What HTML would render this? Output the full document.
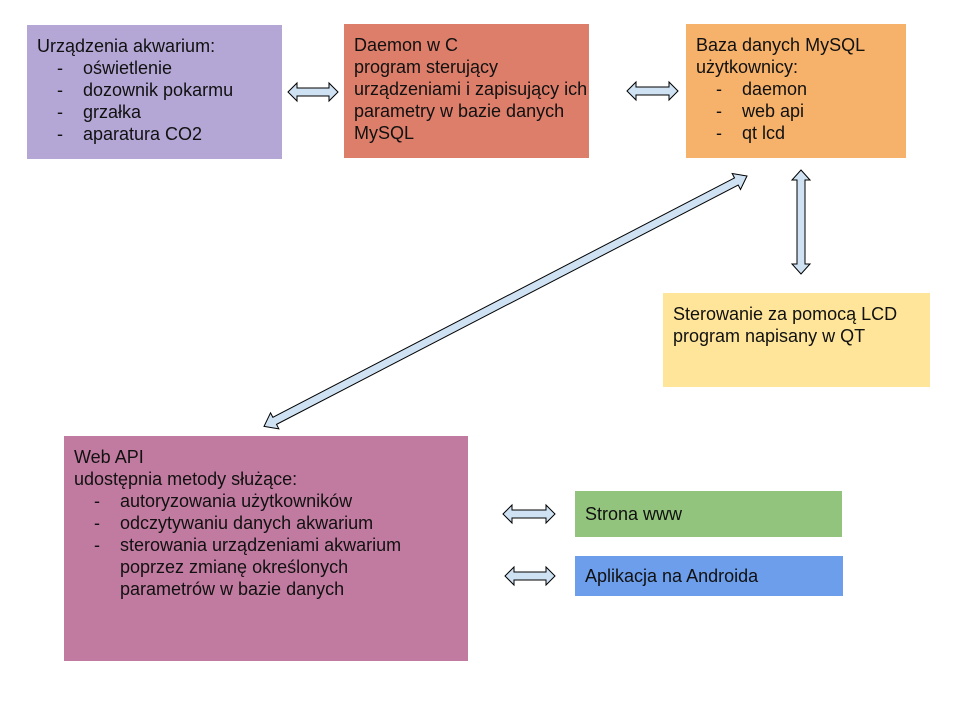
<!DOCTYPE html>
<html><head><meta charset="utf-8"><style>
body{margin:0;width:960px;height:720px;background:#fff;position:relative;overflow:hidden;font-family:"Liberation Sans",Arial,sans-serif;font-size:18px;line-height:22px;color:#111}
.b{position:absolute;box-sizing:border-box;padding:10px 10px}
.l{position:relative;padding-left:46px}
.l::before{content:"-";position:absolute;left:20px}
svg{position:absolute;left:0;top:0}
</style></head><body>
<div class="b" style="left:27px;top:25px;width:255px;height:134px;background:#b4a7d6">Urządzenia akwarium:
<div class="l">oświetlenie</div><div class="l">dozownik pokarmu</div><div class="l">grzałka</div><div class="l">aparatura CO2</div></div>
<div class="b" style="left:344px;top:24px;width:245px;height:134px;background:#dd7e6b;white-space:nowrap">Daemon w C<br>program sterujący<br>urządzeniami i zapisujący ich<br>parametry w bazie danych<br>MySQL</div>
<div class="b" style="left:686px;top:24px;width:220px;height:134px;background:#f6b26b">Baza danych MySQL użytkownicy:
<div class="l">daemon</div><div class="l">web api</div><div class="l">qt lcd</div></div>
<div class="b" style="left:663px;top:293px;width:267px;height:94px;background:#ffe599">Sterowanie za pomocą LCD program napisany w QT</div>
<div class="b" style="left:64px;top:436px;width:404px;height:225px;background:#c27ba0;white-space:nowrap">Web API<br>udostępnia metody służące:
<div class="l">autoryzowania użytkowników</div><div class="l">odczytywaniu danych akwarium</div><div class="l">sterowania urządzeniami akwarium<br>poprzez zmianę określonych<br>parametrów w bazie danych</div></div>
<div class="b" style="left:575px;top:491px;width:267px;height:46px;background:#93c47d;padding-top:12px">Strona www</div>
<div class="b" style="left:575px;top:556px;width:268px;height:40px;background:#6d9eeb;padding-top:9px">Aplikacja na Androida</div>
<svg width="960" height="720" fill="#cfe2f3" stroke="#000" stroke-width="1">
<g transform="translate(288,92)"><polygon points="0,0 9,-9 9,-4 41,-4 41,-9 50,0 41,9 41,4 9,4 9,9"/></g>
<g transform="translate(627,91)"><polygon points="0,0 9,-9 9,-4 42,-4 42,-9 51,0 42,9 42,4 9,4 9,9"/></g>
<g transform="translate(503,514)"><polygon points="0,0 9,-9 9,-4 43,-4 43,-9 52,0 43,9 43,4 9,4 9,9"/></g>
<g transform="translate(505,576)"><polygon points="0,0 9,-9 9,-4 41,-4 41,-9 50,0 41,9 41,4 9,4 9,9"/></g>
<g transform="translate(801,170) rotate(90)"><polygon points="0,0 10,-9 10,-4 94,-4 94,-9 104,0 94,9 94,4 10,4 10,9"/></g>
<g transform="translate(747,176) rotate(152.6)"><polygon points="0,0 12,-9 12,-4 532,-4 532,-9 544,0 532,9 532,4 12,4 12,9"/></g>
</svg>
</body></html>
